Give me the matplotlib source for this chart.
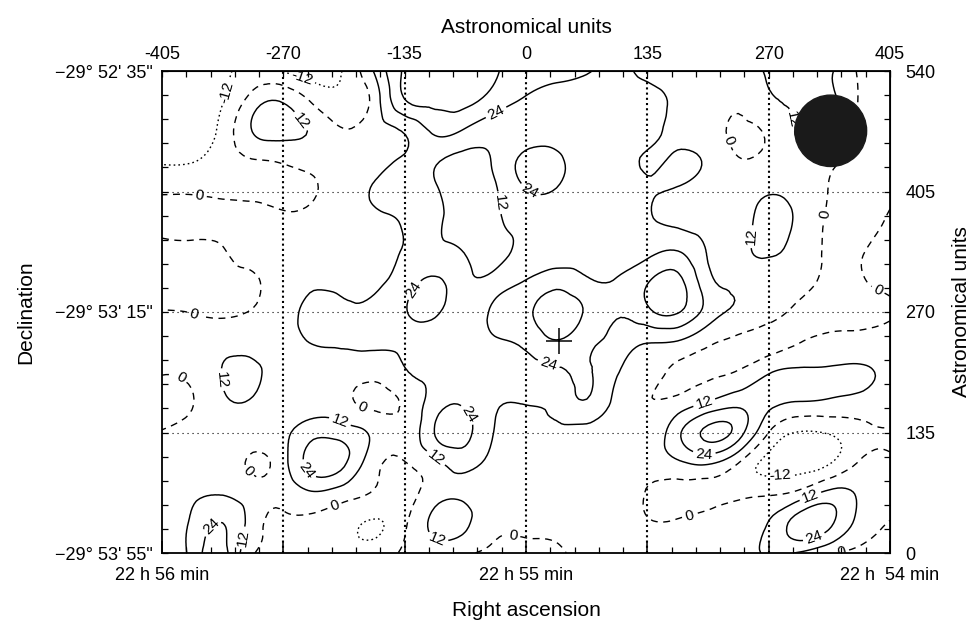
import numpy as np
import matplotlib
matplotlib.use('Agg')
import matplotlib.pyplot as plt
import matplotlib.tri as mtri
from matplotlib.patches import Circle
from matplotlib.ticker import MultipleLocator, FixedLocator

plt.rcParams['font.family'] = ['Liberation Sans', 'DejaVu Sans']

# ---------------- data (read from the map) ----------------
# sample grid in astronomical units
x_au = np.linspace(-405, 405, 25)
y_au = np.linspace(0, 540, 17)

# map values, one row per declination sample (r16 = top, 540 AU ; r0 = bottom, 0 AU)
r16 = [-18, -18, -14, -8, -12.5, -17, -11, 13, 38, 40, 40, 37, 30, 28, 25, 17, 9, 6, 5, 9, 13, 14, 13, -2, -4]
r15 = [-18, -17, -12.5, 6, 11, -2, -10, 5, 35, 39, 39, 30, 22, 18, 17, 15, 15, 10, 6, 2, 10, 14, 15, -1, -3]
r14 = [-16, -18, -8, 12.5, 16, 10, 1, 7, 13, 26, 22, 16, 17, 17, 15, 14, 14, 10, 5, -2, 2, 14, 15, -2, -4]
r13 = [-13, -12.5, -6, -1, 1, 4, 7, 9, 14, 13, 9, 14, 28, 27, 17, 14, 11.5, 13.5, 10, 1, 4, 8, 3, -4, -4]
r12 = [-1, -1, -1.5, -2, -3, -1, 7, 13, 17, 13, 7, 11, 23, 23, 16, 14, 12.5, 11, 7, 8, 11.5, 9, -0.5, -5, -2]
r11 = [2, 2.5, 2, 3, 2, 4, 8, 10, 13, 14, 6, 10, 16, 17, 16, 15, 13, 10, 7, 9, 14, 10, -2, -4, 1]
r10 = [-2, -2, -0.5, 3, 5, 7, 9, 10, 12.5, 15, 11.5, 9, 15, 17, 18, 19, 21, 24.5, 11, 9, 13, 8, -2, -1, 3]
r9 = [-4, -4, -2, -1, 5, 10, 9, 10, 18, 26, 15, 17, 25, 32, 26, 25, 35, 40, 16, 10, 8, 5, -3, -1, 2]
r8 = [0.5, -0.3, -1.5, 0.5, 6, 16, 14, 15, 23, 26, 17, 27, 34, 42, 34, 25, 33, 37, 19, 10, 5, -3, -4, -3, -1]
r7 = [3, 5, 8, 7, 8, 12.5, 13, 14, 15, 16, 16, 22.5, 27, 35, 27, 20, 12.5, 11, 2, -3, -5, -0.5, 3, 4, 5]
r6 = [0.5, 3, 12.5, 14, 8, 7, 6, 4, 11, 14, 16, 17, 18, 22, 25, 13, 5, -3, -2, 1, 11, 14, 14, 14, 8]
r5 = [-3, -0.5, 10, 11, 7, 6, 3, -3, 2, 18, 22, 13, 12.5, 16, 23, 8, 0.5, 4, 13, 20, 15, 11.5, 10, 8, 5]
r4 = [0.5, 3, 4, 5, 9, 20, 18, 9, 3, 24.5, 28, 11, 8, 9, 8, 6, 4, 21, 39, 30, 0, -12.5, -11, -4, -1]
r3 = [4, 5, 5, -1.5, 8, 30, 26, 4, -0.3, 9, 16, 8, 6, 5, 5, 4, 4, 10, 14, 0.5, -15, -16, -13, 1, 2]
r2 = [6, 10, 11, 5, 4, 11, 6, -1, -4, 7, 10, 7, 5, 4, 4, 3, -0.5, -4, -4, -3, -2, 3, 15, 10, 5]
r1 = [7, 14, 24, 6, -2, -3, -8, -13, -2, 15, 14, 3, 2, 2, 3, 3, 0.5, 1, 4, 6, 12.5, 30, 27, 8, -0.5]
r0 = [6, 16, 28, 1, -4, -6, -8, -7, 2, 6, 2, -2, -3, -1, 2, 3, 3, 4, 6, 9, 13, 11, 2, -3, -4]

contour_levels = [-12, 0, 12, 24, 36]
labelled_levels = [-12, 0, 12, 24]

# star position (cross) and beam (filled circle), astronomical units
star_x, star_y = 37, 238
beam_x, beam_y, beam_r = 339, 473, 40

# axis annotations
au_x_ticks = [-405, -270, -135, 0, 135, 270, 405]
au_x_labels = ['-405', '-270', '-135', '0', '135', '270', '405']
au_y_ticks = [0, 135, 270, 405, 540]
au_y_labels = ['0', '135', '270', '405', '540']
ra_labels = ['22 h 56 min', '', '', '22 h 55 min', '', '', '22 h  54 min']
dec_labels = ['\u221229\u00b0 53\' 55"', '', '\u221229\u00b0 53\' 15"', '', '\u221229\u00b0 52\' 35"']
grid_x = [-270, -135, 0, 135, 270]
grid_y = [135, 270, 405]

# ---------------- figure ----------------
fig = plt.figure(figsize=(9.74, 6.26), dpi=100)
ax = fig.add_axes([162 / 974, 73 / 626, 728 / 974, 482 / 626])
ax.set_xlim(-405, 405)
ax.set_ylim(0, 540)

Z = np.array([r0, r1, r2, r3, r4, r5, r6, r7, r8, r9, r10, r11, r12, r13, r14, r15, r16], dtype=float)
X, Y = np.meshgrid(x_au, y_au)
ny, nx = Z.shape
idx = np.arange(nx * ny).reshape(ny, nx)
a = idx[:-1, :-1].ravel()
b = idx[:-1, 1:].ravel()
c = idx[1:, 1:].ravel()
d = idx[1:, :-1].ravel()
triangles = np.concatenate([np.stack([a, b, c], 1), np.stack([a, c, d], 1)])
tri = mtri.Triangulation(X.ravel(), Y.ravel(), triangles)
refiner = mtri.UniformTriRefiner(tri)
tri_f, z_f = refiner.refine_field(Z.ravel(), subdiv=3)

styles = [(0, (1.2, 2.2)), (0, (5, 4)), 'solid', 'solid', 'solid']
cs = ax.tricontour(tri_f, z_f, levels=contour_levels, colors='k',
                   linewidths=[1.0, 1.0, 1.05, 1.05, 1.05], linestyles=styles, zorder=3)
ax.clabel(cs, levels=labelled_levels, fmt='%d', fontsize=11, inline=True, inline_spacing=3)

# dotted reference grid
for xv in grid_x:
    ax.axvline(xv, color='k', lw=1.5, ls=(0, (1, 1.5)), zorder=2)
for yv in grid_y:
    ax.axhline(yv, color='k', lw=0.8, ls=(0, (1, 3.5)), zorder=2)

# star and beam
ax.plot([star_x], [star_y], marker='+', ms=19, mew=1.1, color='k', zorder=5)
ax.add_patch(Circle((beam_x, beam_y), beam_r, color='#1a1a1a', zorder=6))

# bottom / left axes (right ascension, declination)
ax.xaxis.set_major_locator(FixedLocator(au_x_ticks))
ax.set_xticklabels(ra_labels)
ax.xaxis.set_minor_locator(MultipleLocator(27))
ax.tick_params(axis='x', which='major', direction='in', length=9, width=1.1, pad=10, labelsize=13)
ax.tick_params(axis='x', which='minor', direction='in', length=4, width=0.9)
ax.yaxis.set_major_locator(FixedLocator(au_y_ticks))
ax.set_yticklabels(dec_labels)
ax.yaxis.set_minor_locator(MultipleLocator(27))
ax.tick_params(axis='y', which='both', direction='in', length=4, width=0.9, pad=7, labelsize=13)
ax.set_xlabel('Right ascension', fontsize=15, labelpad=12)
ax.set_ylabel('Declination', fontsize=15, labelpad=14)

# top / right axes (astronomical units)
secx = ax.secondary_xaxis('top')
secx.xaxis.set_major_locator(FixedLocator(au_x_ticks))
secx.set_xticklabels(au_x_labels)
secx.xaxis.set_minor_locator(MultipleLocator(27))
secx.tick_params(axis='x', which='both', direction='in', length=4, width=0.9, pad=6, labelsize=13)
secx.set_xlabel('Astronomical units', fontsize=15, labelpad=9)

secy = ax.secondary_yaxis('right')
secy.yaxis.set_major_locator(FixedLocator(au_y_ticks))
secy.set_yticklabels(au_y_labels)
secy.yaxis.set_minor_locator(MultipleLocator(27))
secy.tick_params(axis='y', which='both', direction='in', length=4, width=0.9, pad=11, labelsize=13)
secy.set_ylabel('Astronomical units', fontsize=15, labelpad=12)

for sp in ax.spines.values():
    sp.set_linewidth(1.3)

fig.savefig('out.png', dpi=100)
